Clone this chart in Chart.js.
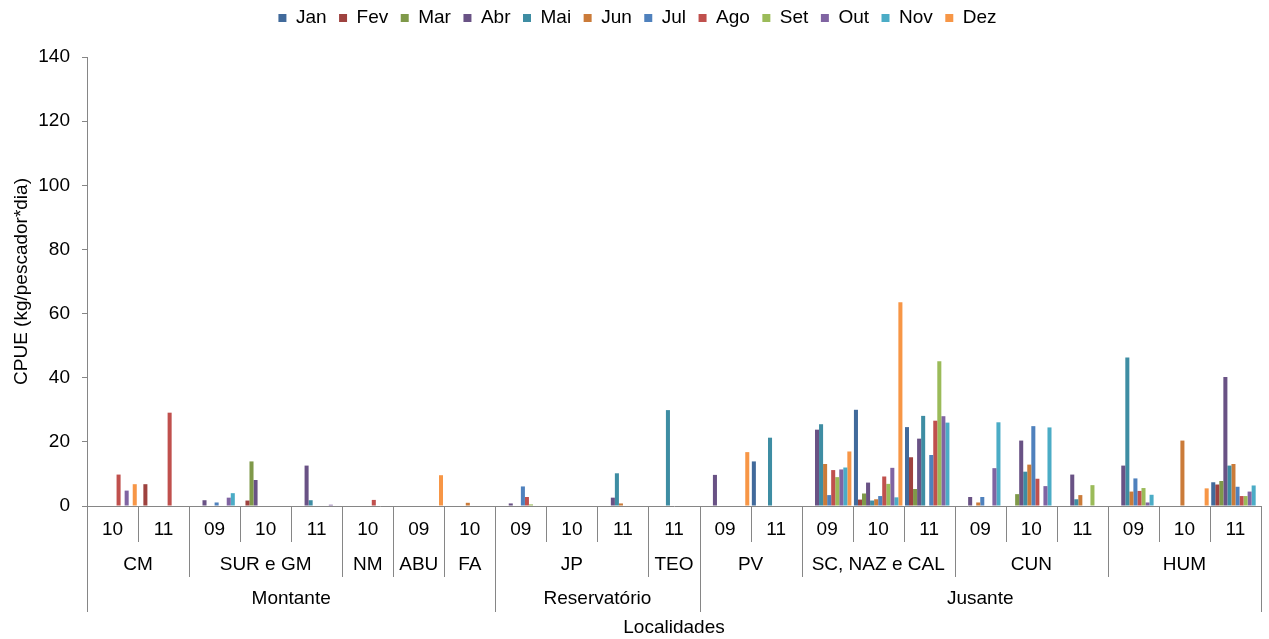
<!DOCTYPE html>
<html>
<head>
<meta charset="utf-8">
<script src="https://cdn.jsdelivr.net/npm/chart.js@4.4.1/dist/chart.umd.min.js"></script>
<style>
  html, body { margin: 0; padding: 0; background: #fff; }
  #wrap { width: 1269px; height: 639px; }
</style>
</head>
<body>
<div id="wrap"><canvas id="cpue" width="1269" height="639"></canvas></div>
<script>
/* ================= DATA ================= */

const months = ["Jan", "Fev", "Mar", "Abr", "Mai", "Jun", "Jul", "Ago", "Set", "Out", "Nov", "Dez"];

// one entry per bar group (year of sampling), left to right
const years = ["10", "11", "09", "10", "11", "10", "09", "10", "09", "10", "11", "11",
               "09", "11", "09", "10", "11", "09", "10", "11", "09", "10", "11"];

const localities    = ["CM", "SUR e GM", "NM", "ABU", "FA", "JP", "TEO", "PV", "SC, NAZ e CAL", "CUN", "HUM"];
const localitySpans = [2, 3, 1, 1, 1, 3, 1, 2, 3, 3, 3];

const regions     = ["Montante", "Reservatório", "Jusante"];
const regionSpans = [8, 4, 11];

const jan = [0, 0, 0, 0, 0, 0, 0, 0, 0, 0, 0, 0, 0, 13.9, 0, 30.0, 24.6, 0, 0, 0, 0, 0, 7.4];
const fev = [0, 6.8, 0, 1.7, 0, 0, 0, 0, 0, 0, 0, 0, 0, 0, 0, 2.0, 15.2, 0, 0, 0, 0, 0, 6.7];
const mar = [0, 0, 0, 13.9, 0, 0, 0, 0, 0, 0, 0, 0, 0, 0, 0, 3.9, 5.3, 0, 3.7, 0, 0, 0, 7.8];
const abr = [0, 0, 1.8, 8.1, 12.6, 0, 0, 0, 0.8, 0, 2.6, 0, 9.7, 0, 23.8, 7.3, 21.0, 2.8, 20.4, 9.8, 12.6, 0, 40.2];
const mai = [0, 0, 0, 0, 1.8, 0, 0, 0, 0, 0, 10.2, 29.9, 0, 21.3, 25.5, 1.7, 28.1, 0, 10.7, 2.1, 46.3, 0, 12.6];
const jun = [0, 0, 0, 0, 0, 0, 0, 1.0, 0, 0, 0.8, 0, 0, 0, 13.1, 2.1, 0, 1.1, 12.9, 3.4, 4.5, 20.4, 13.1];
const jul = [0, 0, 1.1, 0, 0, 0, 0, 0, 6.1, 0, 0, 0, 0, 0, 3.4, 3.1, 15.9, 2.8, 24.9, 0, 8.6, 0, 6.0];
const ago = [9.8, 29.1, 0, 0, 0, 1.9, 0, 0, 2.8, 0, 0, 0, 0, 0, 11.2, 9.2, 26.6, 0, 8.5, 0, 4.7, 0, 3.1];
const set = [0, 0, 0, 0, 0, 0, 0, 0, 0.5, 0, 0, 0, 0, 0, 9.0, 6.9, 45.1, 0, 0, 6.5, 5.6, 0, 3.1];
const out = [4.8, 0, 2.6, 0, 0.4, 0, 0, 0, 0, 0, 0, 0, 0, 0, 11.4, 11.9, 28.0, 11.8, 6.2, 0, 1.1, 0, 4.5];
const nov = [0, 0, 4.0, 0, 0, 0, 0, 0, 0, 0, 0, 0, 0, 0, 12.0, 2.7, 26.0, 26.1, 24.5, 0, 3.5, 0, 6.4];
const dez = [6.8, 0, 0, 0, 0, 0, 9.6, 0, 0, 0, 0, 0, 16.8, 0, 17.0, 63.5, 0, 0, 0, 0, 0, 5.5, 0];

/* ================= STYLE ================= */

const FONT = "'Liberation Sans', Arial, sans-serif";
const AXIS_GREY = "#868686";

const monthColors = [
  "#416a9b", "#9e423f", "#7f9949", "#695285", "#3e8da3", "#cb7b39",
  "#4f81bd", "#c0504d", "#9bbb59", "#8064a2", "#4bacc6", "#f79646"
];

Chart.defaults.font.family = FONT;
Chart.defaults.font.size = 19;
Chart.defaults.color = "#000";

/* ================= PLUGINS ================= */

// extra room between the legend row and the plot
const legendGap = {
  id: "legendGap",
  beforeLayout(chart) {
    const lg = chart.legend;
    if (!lg || lg._gapPatched) return;
    const fit = lg.fit;
    lg.fit = function () { fit.call(this); this.height += 19.5; };
    lg._gapPatched = true;
  }
};

// three level category axis: year / locality / region
const groupAxis = {
  id: "groupAxis",
  afterDraw(chart) {
    const { ctx } = chart;
    const x = chart.scales.x;
    const top = x.top;
    const half = (x.getPixelForValue(1) - x.getPixelForValue(0)) / 2;
    const edge = i => x.getPixelForValue(i) - half;

    const locEdges = [0];
    localitySpans.forEach(n => locEdges.push(locEdges[locEdges.length - 1] + n));
    const regEdges = [0];
    regionSpans.forEach(n => regEdges.push(regEdges[regEdges.length - 1] + n));

    ctx.save();
    ctx.strokeStyle = AXIS_GREY;
    ctx.lineWidth = 1;
    for (let i = 0; i <= years.length; i++) {
      let len = 36;
      if (locEdges.includes(i)) len = 71;
      if (regEdges.includes(i)) len = 106;
      const px = Math.round(edge(i)) + 0.5;
      ctx.beginPath();
      ctx.moveTo(px, top);
      ctx.lineTo(px, top + len);
      ctx.stroke();
    }

    ctx.fillStyle = "#000";
    ctx.font = "19px " + FONT;
    ctx.textAlign = "center";
    ctx.textBaseline = "middle";

    years.forEach((y, i) => ctx.fillText(y, x.getPixelForValue(i), top + 24));

    localities.forEach((name, k) => {
      const cx = (edge(locEdges[k]) + edge(locEdges[k + 1])) / 2;
      ctx.fillText(name, cx, top + 59);
    });

    regions.forEach((name, k) => {
      const cx = (edge(regEdges[k]) + edge(regEdges[k + 1])) / 2;
      ctx.fillText(name, cx, top + 93);
    });
    ctx.restore();
  }
};

/* ================= CHART ================= */

const series = [jan, fev, mar, abr, mai, jun, jul, ago, set, out, nov, dez];

new Chart(document.getElementById("cpue").getContext("2d"), {
  type: "bar",
  data: {
    labels: years,
    datasets: months.map((m, i) => ({
      label: m,
      data: series[i],
      backgroundColor: monthColors[i],
      borderWidth: 0,
      categoryPercentage: 0.95,
      barPercentage: 1.0
    }))
  },
  options: {
    responsive: false,
    animation: false,
    devicePixelRatio: 1,
    layout: { padding: { top: -4, right: 8, bottom: 0, left: 14 } },
    plugins: {
      legend: {
        position: "top",
        labels: { boxWidth: 8, boxHeight: 8, padding: 12.5, font: { size: 19 } }
      },
      tooltip: { enabled: false }
    },
    scales: {
      x: {
        type: "category",
        ticks: { display: false },
        grid: { display: false },
        border: { display: true, color: AXIS_GREY, width: 1 },
        title: { display: true, text: "Localidades", font: { size: 19 }, padding: { top: 0, bottom: 0 } },
        afterFit(scale) { scale.height = 133; }
      },
      y: {
        min: 0,
        max: 140,
        ticks: { stepSize: 20, padding: 12, font: { size: 19 } },
        grid: { drawOnChartArea: false, drawTicks: true, tickLength: 5, color: AXIS_GREY },
        border: { display: true, color: AXIS_GREY, width: 1 },
        title: { display: true, text: "CPUE (kg/pescador*dia)", font: { size: 19 }, padding: { top: -3.4, bottom: 0 } },
        afterFit(scale) { scale.width = 73; }
      }
    }
  },
  plugins: [legendGap, groupAxis]
});
</script>
</body>
</html>
